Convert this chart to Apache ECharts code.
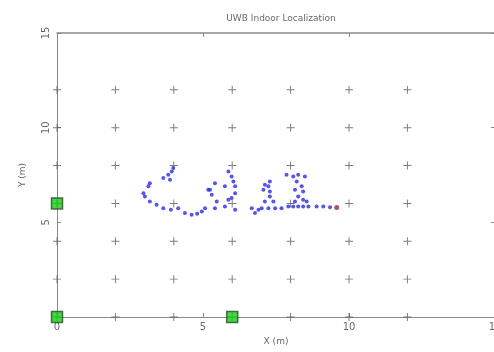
<!DOCTYPE html>
<html>
<head>
<meta charset="utf-8">
<script src="https://cdn.jsdelivr.net/npm/echarts@6/dist/echarts.min.js"></script>
<style>
html,body{margin:0;padding:0;background:#fff;}
#main{width:494px;height:352px;}
</style>
</head>
<body>
<div id="main"></div>
<script>
// reference grid of '+' marks
var gridX = [0, 2, 4, 6, 8, 10, 12]
var gridY = [0, 2, 4, 6, 8, 10, 12]
// anchors (green squares)
var anchors = [[0, 0], [0, 6], [6, 0]]
// estimated positions (blue dots)
var track = [
  [3.98, 7.87], [3.93, 7.69], [3.81, 7.51], [3.64, 7.34], [3.87, 7.25],
  [3.18, 7.07], [3.13, 6.90], [2.96, 6.54], [3.01, 6.37], [3.18, 6.10],
  [3.41, 5.93], [3.64, 5.75], [3.90, 5.66], [4.15, 5.75], [4.38, 5.49],
  [4.61, 5.40], [4.80, 5.45], [4.96, 5.57], [5.18, 6.72], [5.07, 5.75],
  [5.87, 7.69], [5.98, 7.42], [6.04, 7.16], [6.10, 6.90], [6.10, 6.54],
  [5.98, 6.28], [5.87, 6.19], [5.75, 6.90], [5.41, 7.07], [5.24, 6.72],
  [5.30, 6.46], [5.47, 6.10], [5.41, 5.75], [5.75, 5.84], [6.10, 5.66],
  [6.67, 5.75], [6.78, 5.49], [7.01, 5.75], [7.12, 6.10], [7.29, 6.37],
  [7.29, 6.63], [7.24, 6.90], [7.29, 7.16], [7.12, 6.98], [7.07, 6.72],
  [7.41, 6.10], [7.24, 5.75], [7.47, 5.75], [7.69, 5.75], [6.90, 5.66],
  [7.86, 7.51], [8.09, 7.42], [8.26, 7.51], [8.49, 7.42], [8.21, 7.16],
  [8.38, 6.90], [8.43, 6.63], [8.26, 6.37], [8.43, 6.19], [8.55, 6.10],
  [8.15, 6.10], [8.15, 6.72], [7.92, 5.84], [8.09, 5.84], [8.26, 5.84],
  [8.43, 5.84], [8.61, 5.84], [8.89, 5.84], [9.12, 5.84], [9.35, 5.80]
]
// last estimated position
var lastPos = [[9.58, 5.78]]
var xTicks = [0, 5, 10, 15]
var yTicks = [5, 10, 15]

var plusPts = []
gridX.forEach(function(x){
  gridY.forEach(function(y){ plusPts.push([x, y]) })
})

var chart = echarts.init(document.getElementById('main'))

var axisCol = '#8a8a8a'
var txtCol = '#6a6a6a'

option = {
  animation: false,
  backgroundColor: '#fff',
  title: {
    text: 'UWB Indoor Localization',
    left: 276, top: 9,
    textAlign: 'center',
    textStyle: {fontSize: 9, fontWeight: 'normal', color: txtCol, fontFamily: 'DejaVu Sans'}
  },
  grid: {left: 57, top: 33, width: 438, height: 284, outerBoundsMode: 'none', containLabel: false},
  xAxis: [{
    type: 'value', min: 0, max: 15, interval: 5,
    name: 'X (m)', nameLocation: 'middle', nameGap: 20,
    nameTextStyle: {fontSize: 9, color: txtCol, fontFamily: 'DejaVu Sans'},
    axisLine: {onZero: false, lineStyle: {color: axisCol}},
    axisTick: {inside: true, length: 4, lineStyle: {color: axisCol}},
    axisLabel: {fontSize: 10, color: txtCol, margin: 5, fontFamily: 'DejaVu Sans',
      formatter: function(v){ return xTicks.indexOf(v) >= 0 ? String(v) : '' }},
    splitLine: {show: false}
  }, {
    type: 'value', min: 0, max: 15, interval: 5, position: 'top',
    axisLine: {onZero: false, lineStyle: {color: axisCol, width: 1.5}},
    axisTick: {inside: true, length: 4, lineStyle: {color: axisCol}},
    axisLabel: {show: false}, splitLine: {show: false}
  }],
  yAxis: [{
    type: 'value', min: 0, max: 15, interval: 5,
    name: 'Y (m)', nameLocation: 'middle', nameGap: 30, nameRotate: 90,
    nameTextStyle: {fontSize: 9, color: txtCol, fontFamily: 'DejaVu Sans'},
    axisLine: {onZero: false, lineStyle: {color: axisCol}},
    axisTick: {inside: true, length: 4, lineStyle: {color: axisCol}},
    axisLabel: {fontSize: 10, color: txtCol, margin: 6, rotate: 90, fontFamily: 'DejaVu Sans',
      formatter: function(v){ return yTicks.indexOf(v) >= 0 ? String(v) : '' }},
    splitLine: {show: false}
  }, {
    type: 'value', min: 0, max: 15, interval: 5, position: 'right',
    axisLine: {onZero: false, lineStyle: {color: axisCol}},
    axisTick: {inside: true, length: 4, lineStyle: {color: axisCol}},
    axisLabel: {show: false}, splitLine: {show: false}
  }],
  series: [
    {
      type: 'scatter', data: plusPts,
      symbol: 'path://M4.4,0h1.2v10h-1.2z M0,4.4h10v1.2h-10z',
      symbolSize: 8,
      itemStyle: {color: '#5a5a5a'}
    },
    {
      type: 'scatter', data: track,
      symbol: 'circle', symbolSize: 4,
      itemStyle: {color: '#2a2ae6'}
    },
    {
      type: 'scatter', data: lastPos,
      symbol: 'circle', symbolSize: 5,
      itemStyle: {color: '#8a2a5a'}
    },
    {
      type: 'scatter', data: anchors,
      symbol: 'rect', symbolSize: 11,
      itemStyle: {color: '#10d010', borderColor: '#2a4a2a', borderWidth: 1.5}
    }
  ]
}

chart.setOption(option)
</script>
</body>
</html>
